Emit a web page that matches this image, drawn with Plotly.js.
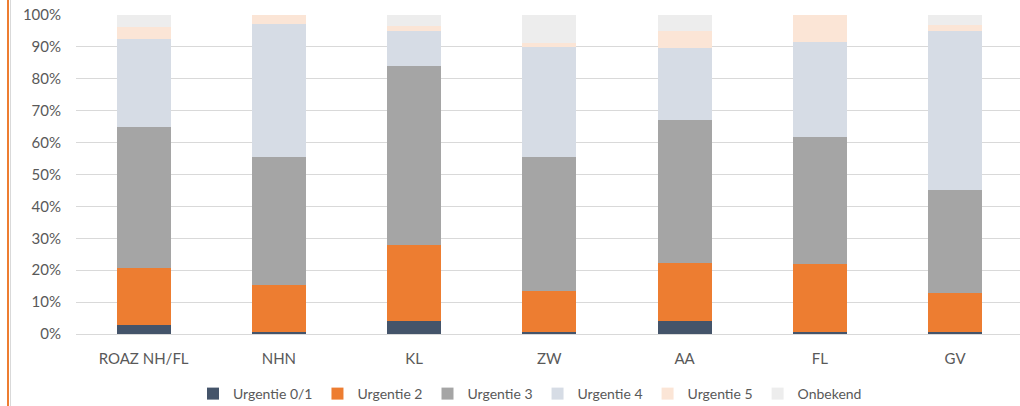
<!DOCTYPE html>
<html>
<head>
<meta charset="utf-8">
<script src="https://cdn.plot.ly/plotly-3.0.1.min.js"></script>
<style>
html,body{margin:0;padding:0;background:#fff;}
#chart{width:1020px;height:406px;}
</style>
</head>
<body>
<div id="chart"></div>
<script>
const categories = ["ROAZ NH/FL", "NHN", "KL", "ZW", "AA", "FL", "GV"];
const seriesNames = ["Urgentie 0/1", "Urgentie 2", "Urgentie 3", "Urgentie 4", "Urgentie 5", "Onbekend"];
const urg01 = [2.8, 0.7, 4.2, 0.7, 4.2, 0.5, 0.7];
const urg2 = [17.8, 14.7, 23.7, 12.8, 18.1, 21.4, 12.1];
const urg3 = [44.3, 40.2, 56.0, 42.1, 44.7, 39.8, 32.3];
const urg4 = [27.6, 41.7, 11.1, 34.3, 22.7, 29.8, 49.9];
const urg5 = [3.6, 2.7, 1.5, 1.4, 5.3, 8.5, 2.0];
const onbekend = [3.9, 0.0, 3.5, 8.7, 5.0, 0.0, 3.0];
const tickVals = [0, 10, 20, 30, 40, 50, 60, 70, 80, 90, 100];

const seriesValues = [urg01, urg2, urg3, urg4, urg5, onbekend];
const colors = ["#44546A", "#ED7D31", "#A5A5A5", "#D6DCE5", "#FBE5D6", "#EDEDED"];

const traces = seriesValues.map((vals, i) => ({
  type: "bar",
  name: seriesNames[i],
  x: categories,
  y: vals,
  marker: {color: colors[i], line: {width: 0}},
  hoverinfo: "name+y"
}));

const W = 1020, mL = 76, mR = 0;
const pw = W - mL - mR;

const layout = {
  width: 1020,
  height: 406,
  margin: {l: mL, r: mR, t: 15, b: 72, autoexpand: false},
  barmode: "stack",
  bargap: 0.6,
  paper_bgcolor: "#ffffff",
  plot_bgcolor: "#ffffff",
  font: {family: "Lato, 'Open Sans', sans-serif", color: "#595959", size: 15},
  showlegend: true,
  legend: {
    orientation: "h",
    xref: "container",
    yref: "container",
    x: 530 / W,
    xanchor: "center",
    y: 12 / 406,
    yanchor: "middle",
    traceorder: "normal",
    font: {size: 14, color: "#595959"},
    itemwidth: 30
  },
  xaxis: {
    type: "category",
    range: [-0.5, 6.48],
    showgrid: false,
    showline: false,
    zeroline: false,
    ticks: "",
    ticklabelstandoff: 14,
    tickfont: {size: 15, color: "#595959"},
    fixedrange: true
  },
  yaxis: {
    range: [0, 100],
    tickvals: tickVals,
    ticktext: tickVals.map(v => v + "%"),
    showgrid: true,
    gridcolor: "#D9D9D9",
    gridwidth: 1,
    zeroline: true,
    zerolinecolor: "#D9D9D9",
    zerolinewidth: 1,
    showline: false,
    ticks: "",
    ticklabelstandoff: 14,
    tickfont: {size: 15, color: "#595959"},
    fixedrange: true
  },
  shapes: [
    {type: "line", xref: "paper", yref: "paper", x0: (8 - mL) / pw, x1: (8 - mL) / pw, y0: -72/319, y1: 1 + 15/319, line: {color: "#ED7D31", width: 2}},
    {type: "line", xref: "paper", yref: "paper", x0: (10.5 - mL) / pw, x1: (10.5 - mL) / pw, y0: -72/319, y1: 1 + 15/319, line: {color: "#D9D9D9", width: 1}}
  ]
};

Plotly.newPlot("chart", traces, layout, {displayModeBar: false, staticPlot: true});
</script>
</body>
</html>
